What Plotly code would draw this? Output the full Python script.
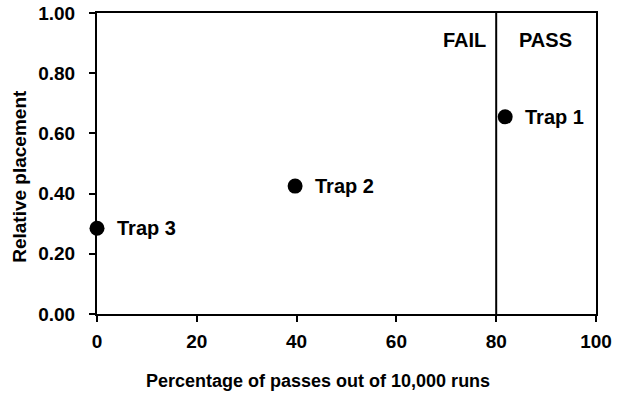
import plotly.graph_objects as go

traps = ["Trap 1", "Trap 2", "Trap 3"]
pass_pct = [81.8, 39.7, 0]
placement = [0.655, 0.425, 0.285]
threshold = 80
x_ticks = [0, 20, 40, 60, 80, 100]
y_ticks = [0.0, 0.2, 0.4, 0.6, 0.8, 1.0]

FONT = "Liberation Sans, Arial, sans-serif"
def f(size):
    return dict(family=FONT, size=size, color="black", weight="bold")

fig = go.Figure()
fig.add_trace(go.Scatter(
    x=pass_pct, y=placement, mode="markers",
    marker=dict(size=15, color="black"),
    cliponaxis=False, showlegend=False, hoverinfo="skip",
))
for name, xv, yv in zip(traps, pass_pct, placement):
    fig.add_annotation(x=xv, y=yv, xref="x", yref="y", text=name, showarrow=False,
                       xanchor="left", yanchor="middle", xshift=18, font=f(20))

fig.add_shape(type="line", x0=threshold, x1=threshold, y0=0, y1=1,
              xref="x", yref="y", line=dict(color="black", width=2))
fig.add_annotation(x=threshold, y=0.911, xref="x", yref="y", text="FAIL",
                   showarrow=False, xanchor="right", yanchor="middle", xshift=-8, font=f(20))
fig.add_annotation(x=threshold, y=0.911, xref="x", yref="y", text="PASS",
                   showarrow=False, xanchor="left", yanchor="middle", xshift=21, font=f(20))

# axis titles
fig.add_annotation(x=0.443, y=-0.223, xref="paper", yref="paper",
                   text="Percentage of passes out of 10,000 runs", showarrow=False,
                   xanchor="center", yanchor="middle", font=f(18))
fig.add_annotation(x=-0.157, y=0.458, xref="paper", yref="paper",
                   text="Relative placement", showarrow=False, textangle=-90,
                   xanchor="center", yanchor="middle", font=f(19))

axis_common = dict(showline=True, linecolor="black", linewidth=2, mirror=True,
                   ticks="outside", ticklen=6, tickwidth=2, tickcolor="black",
                   showgrid=False, zeroline=False, automargin=False,
                   tickfont=f(19))
fig.update_xaxes(range=[0, 100], tickvals=x_ticks, ticktext=[str(v) for v in x_ticks],
                 ticklabelstandoff=3, **axis_common)
fig.update_yaxes(range=[0, 1], tickvals=y_ticks, ticktext=[f"{v:.2f}" for v in y_ticks],
                 ticklabelstandoff=10, **axis_common)
fig.update_layout(width=617, height=400, margin=dict(l=97, r=21, t=13, b=86),
                  plot_bgcolor="white", paper_bgcolor="white")
fig.write_html("out.html", config={"displayModeBar": False},
               post_script="document.body.style.margin='0';document.body.style.overflow='hidden';")
